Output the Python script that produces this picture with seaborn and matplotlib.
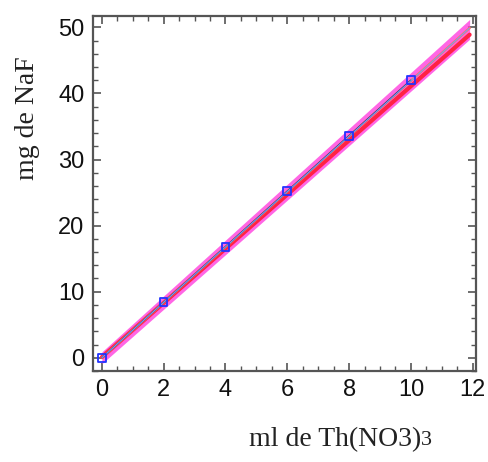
import numpy as np
import seaborn as sns
import pandas as pd
import matplotlib.pyplot as plt
from matplotlib.ticker import MultipleLocator

# calibration points
ml_points = [0, 2, 4, 6, 8, 10]
mg_points = [0, 8.4, 16.8, 25.2, 33.6, 42.0]

# fitted line and its band, end points
fit_x = [0, 11.9]
fit_y = [0, 49.9]
red_y = [0.1, 48.9]
band_low = [-0.9, 48.2]
band_high = [0.9, 51.2]

df = pd.DataFrame({'ml': ml_points, 'mg': mg_points})
df_fit = pd.DataFrame({'ml': fit_x, 'mg': fit_y, 'red': red_y})

sns.set_style('ticks')
plt.rcParams['font.family'] = ['Liberation Sans', 'DejaVu Sans']

fig = plt.figure(figsize=(4.89, 4.62), dpi=100)
ax = fig.add_axes([0.190, 0.197, 0.783, 0.768])

# pink band around the fit
ax.fill_between(fit_x, band_low, band_high, color='#ff33dd', alpha=0.75, lw=0)
sns.lineplot(data=df_fit, x='ml', y='red', color='#ff2244', lw=3, ax=ax)
sns.lineplot(data=df_fit, x='ml', y='mg', color='#ff7755', lw=1.8, ax=ax)
sns.lineplot(data=df, x='ml', y='mg', color='#2a2a66', lw=1.1, ax=ax)
sns.lineplot(data=df_fit, x='ml', y='mg', color='#7799ff', lw=0.8, ax=ax)
sns.scatterplot(data=df, x='ml', y='mg', marker='s', s=30, facecolor='none',
                edgecolor='#2233ff', linewidth=1.3, ax=ax, zorder=5)

ax.set_xlim(-0.29, 12.1)
ax.set_ylim(-2, 51.7)
ax.xaxis.set_major_locator(MultipleLocator(2))
ax.xaxis.set_minor_locator(MultipleLocator(0.5))
ax.yaxis.set_major_locator(MultipleLocator(10))
ax.yaxis.set_minor_locator(MultipleLocator(2))
ax.tick_params(which='both', direction='in', top=True, right=True,
               color='#555555', labelsize=17, labelcolor='#111111', pad=6)
ax.tick_params(which='major', length=6, width=1.2)
ax.tick_params(which='minor', length=3.5, width=1.0)
for sp in ax.spines.values():
    sp.set_color('#555555')
    sp.set_linewidth(1.6)

ax.set_xlabel('')
ax.set_ylabel('')
xl = fig.text(0.509, 0.048, 'ml de Th(NO3)', family='Liberation Serif',
              fontsize=20, ha='left', va='center', color='#222222')
ax.annotate('3', xy=(1, 0.08), xycoords=xl, family='Liberation Serif',
            fontsize=16, ha='left', va='bottom', color='#222222')
fig.text(0.057, 0.745, 'mg de NaF', family='Liberation Serif',
         fontsize=20, ha='center', va='center', rotation=90, color='#222222')

fig.savefig('out.png', dpi=100)
